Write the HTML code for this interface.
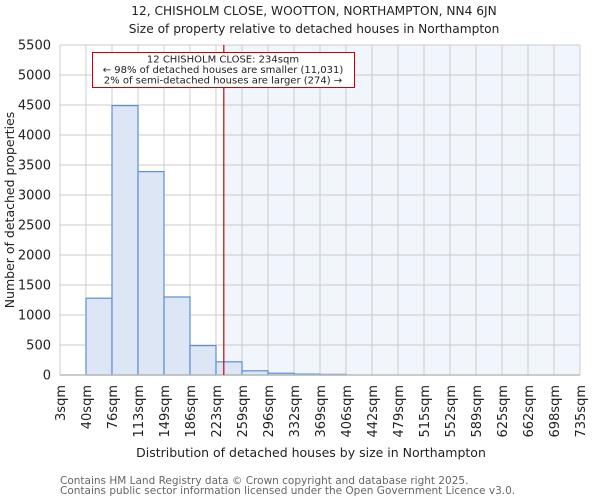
<!DOCTYPE html>
<html><head><meta charset="utf-8"><style>
body{margin:0;background:#fff;font-family:"DejaVu Sans","Liberation Sans",sans-serif;}
svg text{font-family:"DejaVu Sans","Liberation Sans",sans-serif;}
</style></head><body>
<svg id="chart" width="600" height="500" xmlns="http://www.w3.org/2000/svg">
<text x="314" y="15" text-anchor="middle" font-size="12.2" fill="#222">12, CHISHOLM CLOSE, WOOTTON, NORTHAMPTON, NN4 6JN</text>
<text x="314" y="33" text-anchor="middle" font-size="12.2" fill="#222">Size of property relative to detached houses in Northampton</text>
<g id="plot"></g>
<text transform="translate(14,210) rotate(-90)" text-anchor="middle" font-size="12.5" fill="#222">Number of detached properties</text>
<text x="311" y="457" text-anchor="middle" font-size="12.5" fill="#222">Distribution of detached houses by size in Northampton</text>
<text x="60" y="484" font-size="10.5" fill="#666">Contains HM Land Registry data © Crown copyright and database right 2025.</text>
<text x="60" y="494" font-size="10.5" fill="#666">Contains public sector information licensed under the Open Government Licence v3.0.</text>
</svg>
<script>
const binLabels=["3sqm","40sqm","76sqm","113sqm","149sqm","186sqm","223sqm","259sqm","296sqm","332sqm","369sqm","406sqm","442sqm","479sqm","515sqm","552sqm","589sqm","625sqm","662sqm","698sqm","735sqm"];
const counts=[0,1280,4490,3390,1300,490,220,70,30,15,10,0,0,0,0,0,0,0,0,0];
const yTicks=[0,500,1000,1500,2000,2500,3000,3500,4000,4500,5000,5500];
const propertyBinPos=6.3;
const L=60,R=580,T=45,B=375,yMax=5500;
const NS="http://www.w3.org/2000/svg";
const g=document.getElementById('plot');
const bw=(R-L)/counts.length;
const xs=i=>L+i*bw;
const ys=v=>B-(v/yMax)*(B-T);
function mk(tag,attrs){const e=document.createElementNS(NS,tag);for(const k in attrs)e.setAttribute(k,attrs[k]);g.appendChild(e);return e;}
const px=xs(propertyBinPos);
const sh=mk('rect',{x:px,y:T,width:R-px,height:B-T,fill:'#eef2fb','fill-opacity':0.8});


for(let i=0;i<binLabels.length;i++){
  const l=mk('line',{x1:xs(i),x2:xs(i),y1:T,y2:B,stroke:'#cccccc','stroke-width':1});
  
  
}
yTicks.forEach(v=>{
  const l=mk('line',{x1:L,x2:R,y1:ys(v),y2:ys(v),stroke:'#cccccc','stroke-width':1});
  
  
  const t=mk('text',{x:L-9,y:ys(v)+4.5,'text-anchor':'end','font-size':13,fill:'#222'});
  t.textContent=v;
  
  
});
counts.forEach((c,i)=>{
  if(c<=0)return;
  const r=mk('rect',{x:xs(i),y:ys(c),width:bw,height:B-ys(c),fill:'#dce6f4',stroke:'#5b8fd6','stroke-width':1.2});
  
  
});
const ax=mk('line',{x1:L,x2:R,y1:B,y2:B,stroke:'#bbbbbb','stroke-width':1.5});


binLabels.forEach((lab,i)=>{
  const t=mk('text',{transform:`translate(${xs(i)+5},385) rotate(-90)`,'text-anchor':'end','font-size':13,fill:'#222'});
  t.textContent=lab;
  
  
});
const pl=mk('line',{x1:px,x2:px,y1:T,y2:B,stroke:'#cc0000','stroke-width':1.2});


const box=mk('rect',{x:92.5,y:52.5,width:262,height:35,fill:'#fff',stroke:'#cc0000','stroke-width':1});


["12 CHISHOLM CLOSE: 234sqm","← 98% of detached houses are smaller (11,031)","2% of semi-detached houses are larger (274) →"].forEach((s,k)=>{
  const t=mk('text',{x:223,y:62.5+k*10.5,'text-anchor':'middle','font-size':10,fill:'#222'});
  t.textContent=s;
  
  
});
</script>
</body></html>
